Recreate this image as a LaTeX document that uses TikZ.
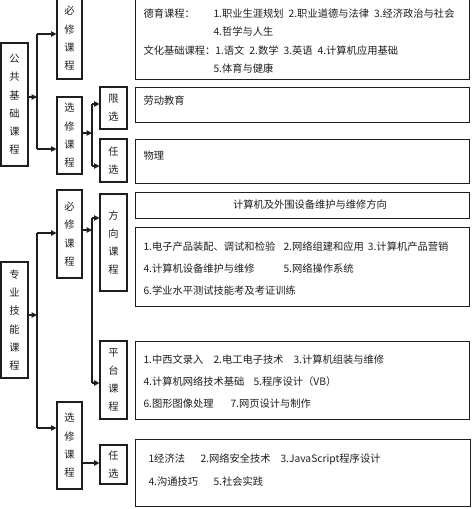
\documentclass[tikz,border=0pt]{standalone}
\usepackage{fontspec}
\setmainfont{Noto Sans CJK SC}
\usetikzlibrary{arrows.meta,calc}
\definecolor{ink}{RGB}{30,30,30}
\tikzset{
  every picture/.style={color=ink, line width=0.8pt},
  vbox/.style={draw=ink, inner sep=0pt, align=center, minimum width=18.75pt,
    font=\fontsize{7.7pt}{13.7pt}\selectfont},
  wbox/.style={vbox, minimum width=20.25pt},
  panel/.style={draw=ink, inner sep=0pt, anchor=north west, minimum width=250.5pt},
  txt/.style={inner sep=0pt, anchor=north west, align=left, font=\fontsize{7.7pt}{#1}\selectfont},
  txt/.default=16.5pt,
  link/.style={-{Triangle[length=4pt,width=4pt]}},
}

\begin{document}
\begin{tikzpicture}[x=0.75pt, y=-0.75pt]
  \useasboundingbox (0,0) rectangle (474,509);
  \clip (0,0) rectangle (474,509);

  % public basic courses
  \node[wbox, minimum height=92.25pt] (gongji) at (14.5,104.5) {公\\共\\基\\础\\课\\程};
  \node[vbox, minimum height=60.75pt] (bixiu1) at (69.5,38.5) {必\\修\\课\\程};
  \node[vbox, minimum height=57.75pt] (xuanxiu1) at (69.5,135.5) {选\\修\\课\\程};
  \node[wbox, minimum height=31.5pt] (xianxuan) at (113.5,108) {限\\选};
  \node[wbox, minimum height=32.25pt] (renxuan1) at (113.5,160.5) {任\\选};

  \node[panel, minimum height=60.75pt] (pdeyu) at (135,-2) {};
  \node[txt=13.7pt] (tdeyu) at (143,8.3) {\makebox[52.5pt][l]{德育课程：}1.职业生涯规划\hspace{3.75pt}2.职业道德与法律\hspace{3.75pt}3.经济政治与社会\\
    \hspace*{52.5pt}4.哲学与人生\\
    文化基础课程：1.语文\hspace{3.75pt}2.数学\hspace{3.75pt}3.英语\hspace{3.75pt}4.计算机应用基础\\
    \hspace*{52.5pt}5.体育与健康};
  \node[panel, minimum height=26.25pt] (plao) at (135,87) {};
  \node[txt] (tlao) at (143,95.3) {劳动教育};
  \node[panel, minimum height=33pt] (pwu) at (135,139) {};
  \node[txt] (twu) at (143,150.3) {物理};

  \coordinate (ja) at (37,97);
  \coordinate (ja1) at (37,34);
  \coordinate (ja2) at (37,149);
  \draw[link] (gongji.east |- ja) -- (ja);
  \draw (ja1) -- (ja2);
  \draw[link] (ja1) -- (ja1 -| bixiu1.west);
  \draw[link] (ja2) -- (ja2 -| xuanxiu1.west);

  \coordinate (jb) at (92,133);
  \coordinate (jb1) at (92,104);
  \coordinate (jb2) at (92,166);
  \draw[link] (xuanxiu1.east |- jb) -- (jb);
  \draw (jb1) -- (jb2);
  \draw[link] (jb1) -- (jb1 -| xianxuan.west);
  \draw[link] (jb2) -- (jb2 -| renxuan1.west);

  % professional skill courses
  \node[wbox, minimum height=87pt] (zhuanye) at (14.5,320) {专\\业\\技\\能\\课\\程};
  \node[vbox, minimum height=66pt] (bixiu2) at (69.5,234) {必\\修\\课\\程};
  \node[vbox, minimum height=65.25pt] (xuanxiu2) at (69.5,445.5) {选\\修\\课\\程};
  \node[wbox, minimum height=72.75pt] (fangxiang) at (113.5,242.5) {方\\向\\课\\程};
  \node[wbox, minimum height=58.5pt] (pingtai) at (113.5,380) {平\\台\\课\\程};
  \node[wbox, minimum height=29.25pt] (renxuan2) at (113.5,464.5) {任\\选};

  \node[panel, minimum height=19.5pt] (phead) at (135,192) {};
  \node[txt, anchor=center] (thead) at (310,205) {计算机及外围设备维护与维修方向};
  \node[panel, minimum height=59.25pt] (pfang) at (135,227) {};
  \node[txt] (tfang) at (143,241.3) {\makebox[105pt][l]{1.电子产品装配、调试和检验}2.网络组建和应用\hspace{3pt}3.计算机产品营销\\
    \makebox[105pt][l]{4.计算机设备维护与维修}5.网络操作系统\\
    6.学业水平测试技能考及考证训练};
  \node[panel, minimum height=58.5pt] (pping) at (135,341) {};
  \node[txt] (tping) at (143,354.3) {\makebox[52.5pt][l]{1.中西文录入}\makebox[60pt][l]{2.电工电子技术}3.计算机组装与维修\\
    \makebox[82.5pt][l]{4.计算机网络技术基础}5.程序设计（VB）\\
    \makebox[65.25pt][l]{6.图形图像处理}7.网页设计与制作};
  \node[panel, minimum height=50.25pt, minimum width=251.25pt] (pren) at (135,439) {};
  \node[txt=17.25pt] (tren) at (148,453.3) {\makebox[39pt][l]{1经济法}\makebox[60pt][l]{2.网络安全技术}3.JavaScript程序设计\\
    \makebox[48.75pt][l]{4.沟通技巧}5.社会实践};

  \coordinate (jc) at (37,315);
  \coordinate (jc1) at (37,233);
  \coordinate (jc2) at (37,428);
  \draw[link] (zhuanye.east |- jc) -- (jc);
  \draw (jc1) -- (jc2);
  \draw[link] (jc1) -- (jc1 -| bixiu2.west);
  \draw[link] (jc2) -- (jc2 -| xuanxiu2.west);

  \coordinate (jd) at (92,230);
  \coordinate (jd1) at (92,218);
  \coordinate (jd2) at (92,383);
  \draw[link] (bixiu2.east |- jd) -- (jd);
  \draw (jd1) -- (jd2);
  \draw[link] (jd1) -- (jd1 -| fangxiang.west);
  \draw[link] (jd2) -- (jd2 -| pingtai.west);

  \coordinate (je) at (82,463);
  \draw[link] (xuanxiu2.east |- je) -- (renxuan2.west |- je);
\end{tikzpicture}
\end{document}
